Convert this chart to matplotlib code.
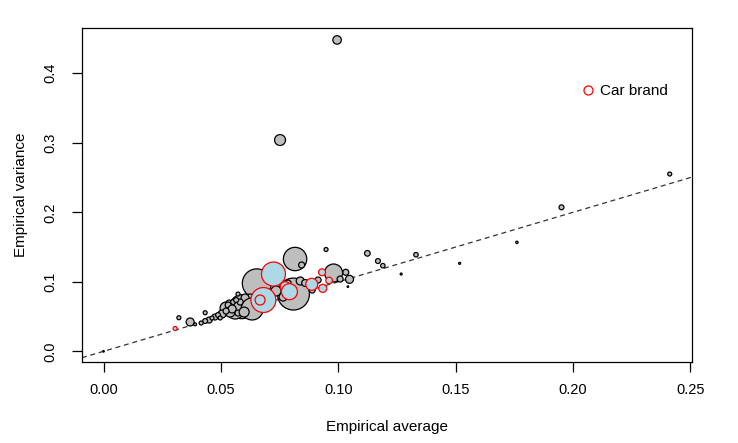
import numpy as np
import matplotlib
matplotlib.use("Agg")
import matplotlib.pyplot as plt
from matplotlib.lines import Line2D

plt.rcParams['font.family'] = ['Liberation Sans', 'DejaVu Sans']

# --- data (empirical average / variance per group) ---
# grey bubbles: all other groups
other_avg = [0.0995, 0.0752, 0.2412, 0.1951, 0.1761, 0.1517, 0.1268, 0.0948,
             0.1124, 0.1169, 0.1190, 0.1331, 0.1032, 0.1048, 0.1041, 0.0980,
             0.0816, 0.0844, 0.0653, 0.0809, 0.0589, 0.0561, 0.0522, 0.0539,
             0.0505, 0.0475, 0.0450, 0.0433, 0.0433, 0.0390, 0.0369, 0.0321,
             0.0000, 0.0573, 0.0624, 0.0603, 0.0710, 0.0735, 0.0838, 0.0859,
             0.0889, 0.0914, 0.0535, 0.0552, 0.0462, 0.0488, 0.0416, 0.1008,
             0.0765, 0.0786, 0.0633, 0.0531, 0.0548, 0.0573, 0.0522, 0.0582,
             0.0599, 0.0565, 0.0497]
other_var = [0.4480, 0.3040, 0.2551, 0.2072, 0.1568, 0.1266, 0.1112, 0.1465,
             0.1410, 0.1299, 0.1232, 0.1390, 0.1137, 0.1036, 0.0930, 0.1127,
             0.1328, 0.1242, 0.0978, 0.0824, 0.0642, 0.0594, 0.0623, 0.0565,
             0.0537, 0.0494, 0.0450, 0.0555, 0.0436, 0.0389, 0.0422, 0.0483,
             0.0000, 0.0824, 0.0738, 0.0767, 0.0796, 0.0868, 0.1012, 0.0983,
             0.0882, 0.1026, 0.0695, 0.0709, 0.0479, 0.0522, 0.0407, 0.1040,
             0.0781, 0.0983, 0.0609, 0.0666, 0.0609, 0.0551, 0.0580, 0.0709,
             0.0565, 0.0738, 0.0480]
other_expo = [18, 30, 4, 6, 1.4, 1, 1, 4,
              8, 6, 5, 5, 9, 16, 0.6, 81,
              137, 9, 210, 256, 144, 81, 36, 25,
              16, 9, 9, 4, 6, 2.2, 16, 4,
              0.6, 4, 36, 16, 9, 25, 16, 12,
              9, 9, 9, 6, 4, 6, 4, 9,
              16, 9, 121, 9, 16, 9, 9, 9,
              25, 6, 4]

# car brand groups (highlighted)
brand_avg = [0.0724, 0.0681, 0.0667, 0.0774, 0.0792, 0.0887, 0.0931, 0.0961,
             0.0934, 0.0305]
brand_var = [0.1112, 0.0738, 0.0738, 0.0930, 0.0858, 0.0964, 0.1137, 0.1019,
             0.0906, 0.0328]
brand_expo = [144, 156, 25, 25, 64, 36, 12, 11, 16, 4]

# bubble area proportional to exposure
SIZE_SCALE = 2.07

fig = plt.figure(figsize=(7.38, 4.43), dpi=100)
ax = fig.add_axes([0.111, 0.1828, 0.8267, 0.754])

ax.scatter(other_avg, other_var, s=np.array(other_expo) * SIZE_SCALE,
           facecolor='#BEBEBE', edgecolor='black', linewidth=0.9, zorder=2)
ax.scatter(brand_avg, brand_var, s=np.array(brand_expo) * SIZE_SCALE,
           facecolor='#ADD8E6', edgecolor='red', linewidth=0.9, zorder=3)

ax.axline((0, 0), slope=1, color='#333333', linestyle=(0, (4, 3)), linewidth=0.9, zorder=1)

ax.set_xlim(-0.0092, 0.2507)
ax.set_ylim(-0.0154, 0.4652)
ax.set_xticks([0.00, 0.05, 0.10, 0.15, 0.20, 0.25])
ax.set_xticklabels(['0.00', '0.05', '0.10', '0.15', '0.20', '0.25'])
ax.set_yticks([0.0, 0.1, 0.2, 0.3, 0.4])
ax.set_yticklabels(['0.0', '0.1', '0.2', '0.3', '0.4'], rotation=90, va='center')
ax.tick_params(direction='out', length=7, width=0.9, labelsize=10.5, pad=8)
ax.tick_params(axis='y', pad=11)
for sp in ax.spines.values():
    sp.set_linewidth(0.9)

ax.set_xlabel("Empirical average", fontsize=11, labelpad=17)
ax.set_ylabel("Empirical variance", fontsize=11, labelpad=11)

handle = Line2D([], [], linestyle='none', marker='o', markersize=6.5,
                markerfacecolor='none', markeredgecolor='red', markeredgewidth=0.9)
ax.legend([handle], ["Car brand"], loc='center left', bbox_to_anchor=(0.792, 0.81),
          frameon=False, fontsize=11, handletextpad=0.2, handlelength=1.2)

fig.savefig("out.png", dpi=100)
